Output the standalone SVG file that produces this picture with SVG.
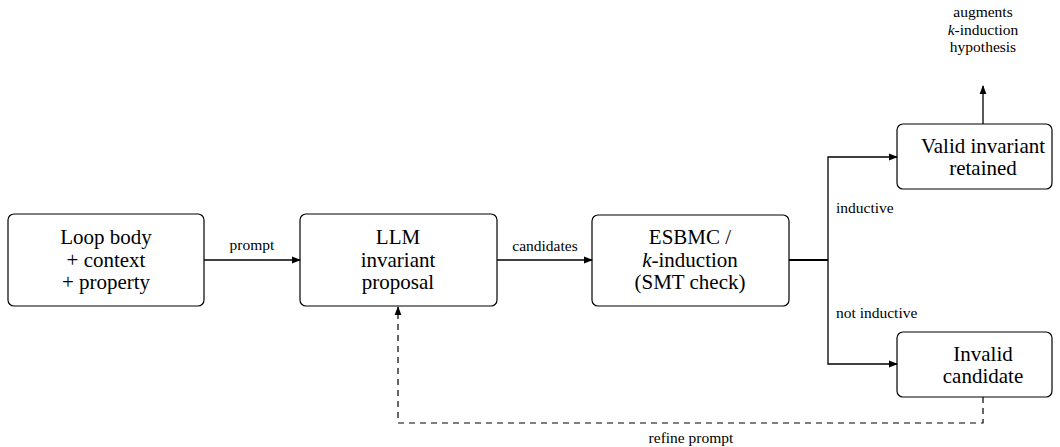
<svg xmlns="http://www.w3.org/2000/svg" width="1060" height="447" viewBox="0 0 1060 447">
<defs>
<marker id="ah" viewBox="0 0 10 10" refX="9" refY="5" markerWidth="9" markerHeight="9" markerUnits="userSpaceOnUse" orient="auto"><path d="M0,1.2 L10,5 L0,8.8 Z" fill="#000"/></marker>
<style>
.box{fill:#fff;stroke:#000;stroke-width:1.2}
.nt{font-family:"Liberation Serif",serif;font-size:21px;text-anchor:middle;fill:#000}
.lb{font-family:"Liberation Serif",serif;font-size:15.5px;fill:#000}
.c{fill:none;stroke:#000;stroke-width:1.3}
.d{fill:none;stroke:#000;stroke-width:1.2;stroke-dasharray:6,5}
</style>
</defs>
<rect width="1060" height="447" fill="#fff"/>
<g id="n1"><rect class="box" x="8" y="214" width="196" height="92" rx="6"/>
<text class="nt" x="106" y="244">Loop body</text><text class="nt" x="106" y="266.5">+ context</text><text class="nt" x="106" y="289">+ property</text></g>
<g id="n2"><rect class="box" x="300" y="214" width="197" height="92" rx="6"/>
<text class="nt" x="398" y="244">LLM</text><text class="nt" x="398" y="266.5">invariant</text><text class="nt" x="398" y="289">proposal</text></g>
<g id="n3"><rect class="box" x="592" y="215" width="197" height="91" rx="6"/>
<text class="nt" x="690" y="244">ESBMC /</text><text class="nt" x="690" y="266.5"><tspan font-style="italic">k</tspan>-induction</text><text class="nt" x="690" y="289">(SMT check)</text></g>
<g id="n4"><rect class="box" x="897" y="124" width="155" height="65" rx="6"/>
<text class="nt" x="983" y="153">Valid invariant</text><text class="nt" x="983" y="175">retained</text></g>
<g id="n5"><rect class="box" x="897" y="332" width="155" height="65" rx="6"/>
<text class="nt" x="983" y="361">Invalid</text><text class="nt" x="983" y="383">candidate</text></g>
<g id="connectors">
<line class="c" x1="204" y1="260" x2="300" y2="260" marker-end="url(#ah)"/>
<text class="lb" x="252" y="250" text-anchor="middle">prompt</text>
<line class="c" x1="497" y1="260" x2="592" y2="260" marker-end="url(#ah)"/>
<text class="lb" x="545" y="251" text-anchor="middle">candidates</text>
<line x1="789" y1="260" x2="828" y2="260" stroke="#000" stroke-width="2"/>
<path class="c" d="M828,260 V157 H897" marker-end="url(#ah)"/>
<path class="c" d="M828,260 V364 H897" marker-end="url(#ah)"/>
<text class="lb" x="836" y="213">inductive</text>
<text class="lb" x="836" y="318">not inductive</text>
<line class="c" x1="983" y1="124" x2="983" y2="86" marker-end="url(#ah)"/>
<text class="lb" x="983" y="17" text-anchor="middle">augments</text>
<text class="lb" x="983" y="34.5" text-anchor="middle"><tspan font-style="italic">k</tspan>-induction</text>
<text class="lb" x="983" y="52" text-anchor="middle">hypothesis</text>
<path class="d" d="M983,397 V423 H398 V307" marker-end="url(#ah)"/>
<text class="lb" x="691" y="443" text-anchor="middle">refine prompt</text>
</g>
</svg>
